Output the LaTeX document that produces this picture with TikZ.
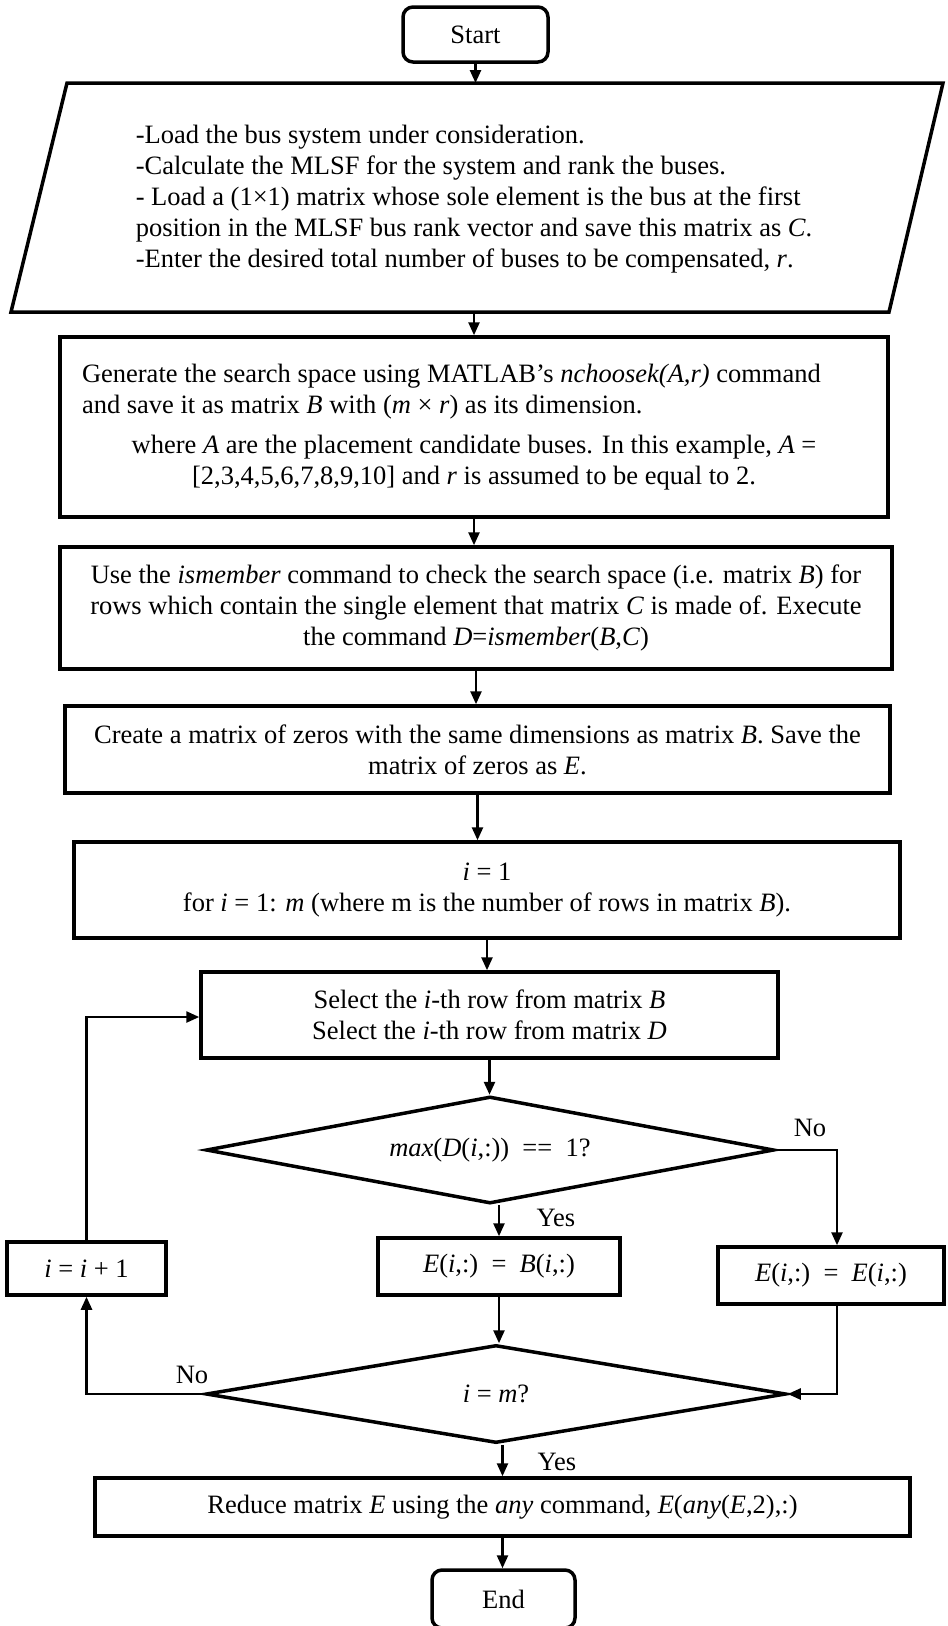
\documentclass[tikz,border=0pt]{standalone}
\usepackage{fontspec}
\setmainfont{Liberation Serif}
\usetikzlibrary{shapes.geometric,arrows.meta,positioning,calc}
\newcommand{\vv}[1]{\textit{#1}}

\tikzset{
  box/.style={draw, line width=3.5pt, inner sep=0pt, align=center},
  term/.style={box, rounded corners=10pt},
  dec/.style={draw, diamond, line width=3.5pt, inner sep=0pt},
  flow/.style={->, line width=2.5pt},
}

\begin{document}
\begin{tikzpicture}[x=1pt, y=-1pt, >={Triangle[length=13pt,width=11pt]},
    font=\fontsize{26.5}{31}\selectfont]
        \useasboundingbox (0,0) rectangle (948,1626);

        % Start
        \node[term, minimum width=145pt, minimum height=55pt] (start) at (475.5,34.5) {Start};

        % input (parallelogram)
        \draw[line width=3.5pt] (67,83) -- (943,83) -- (889,312) -- (11,312) -- cycle;
        \coordinate (inpN) at (476,83);
        \coordinate (inpS) at (476,312);
        \node[align=left] (inp) at (474,199.5)
              {-Load the bus system under consideration.\\
               -Calculate the MLSF for the system and rank the buses.\\
               - Load a (1×1) matrix whose sole element is the bus at the first\\
               position in the MLSF bus rank vector and save this matrix as \vv{C}.\\
               -Enter the desired total number of buses to be compensated, \vv{r}.};

        % search space
        \node[box, minimum width=828pt, minimum height=180pt] (gen) at (474,427)
              {\parbox{784pt}{\raggedright
               Generate the search space using MATLAB’s \textit{nchoosek(A,r)} command\\
               and save it as matrix \vv{B} with (\vv{m} × \vv{r}) as its dimension.\par
               \vspace{9pt}\centering
               where \vv{A} are the placement candidate buses. In this example, \vv{A} =\\
               {}[2,3,4,5,6,7,8,9,10] and \vv{r} is assumed to be equal to 2.\par}};

        % ismember
        \node[box, minimum width=832pt, minimum height=122pt] (chk) at (476,608)
              {Use the \textit{ismember} command to check the search space (i.e. matrix \vv{B}) for\\
               rows which contain the single element that matrix \vv{C} is made of. Execute\\
               the command \vv{D}=\textit{ismember}(\vv{B},\vv{C})};

        % zeros
        \node[box, minimum width=825pt, minimum height=87pt] (zer) at (477.5,749.5)
              {Create a matrix of zeros with the same dimensions as matrix \vv{B}. Save the\\
               matrix of zeros as \vv{E}.};

        % loop
        \node[box, minimum width=826pt, minimum height=96pt] (lp) at (487,890)
              {\vv{i} = 1\\
               for \vv{i} = 1: \vv{m} (where m is the number of rows in matrix \vv{B}).};

        % select rows
        \node[box, minimum width=577pt, minimum height=86pt] (sel) at (489.5,1015)
              {Select the \vv{i}-th row from matrix \vv{B}\\
               Select the \vv{i}-th row from matrix \vv{D}};

        % decision 1
        \node[dec, aspect=5.31, minimum width=568pt, minimum height=107pt] (dia1) at (490,1150)
              {\vv{max}(\vv{D}(\vv{i},:))\ \ ==\ \ 1?};

        % branches
        \node[box, minimum width=242pt, minimum height=57pt] (eqB) at (499,1266.5)
              {\vv{E}(\vv{i},:)\ \ =\ \ \vv{B}(\vv{i},:)};
        \node[box, minimum width=226pt, minimum height=57pt] (eqE) at (831,1275.5)
              {\vv{E}(\vv{i},:)\ \ =\ \ \vv{E}(\vv{i},:)};
        \node[box, minimum width=159pt, minimum height=53pt] (inc) at (86.5,1268.5) {\vv{i} = \vv{i} + 1};

        % decision 2
        \node[dec, aspect=5.92, minimum width=580pt, minimum height=98pt] (dia2) at (496,1394) {\vv{i} = \vv{m}?};

        % reduce
        \node[box, minimum width=815pt, minimum height=58pt] (red) at (502.5,1507)
              {Reduce matrix \vv{E} using the \textit{any} command, \vv{E}(\textit{any}(\vv{E},2),:)};

        % End
        \node[term, minimum width=143pt, minimum height=58pt] (stop) at (503.5,1599) {End};

        % labels
        \node (no1) at (810,1128) {No};
        \node (yes1) at (556,1218) {Yes};
        \node (no2) at (192,1375) {No};
        \node (yes2) at (557,1462) {Yes};

        % arrows
        \draw[flow] (start.south) -- (start.south |- inpN);
        \draw[flow] (gen.north |- inpS) -- (gen.north);
        \draw[flow] (gen.south) -- (gen.south |- chk.north);
        \draw[flow] (chk.south) -- (chk.south |- zer.north);
        \draw[flow] (zer.south) -- (zer.south |- lp.north);
        \draw[flow] (lp.south) -- (lp.south |- sel.north);
        \draw[flow] (sel.south) -- (sel.south |- dia1.north);
        \draw[flow] (eqB.north |- dia1.south) -- (eqB.north);
        \draw[flow] (dia1.east) -| ([xshift=6pt]eqE.north);
        \draw[flow] (eqB.south) -- (eqB.south |- dia2.north);
        \draw[flow] ([xshift=6pt]eqE.south) |- (dia2.east);
        \draw[flow] (dia2.west) -| (inc.south);
        \draw[flow] (inc.north) |- ([yshift=-2pt]sel.west);
        \draw[flow] (red.north |- dia2.south) -- (red.north);
        \draw[flow] (red.south) -- (red.south |- stop.north);

    \end{tikzpicture}
\end{document}
